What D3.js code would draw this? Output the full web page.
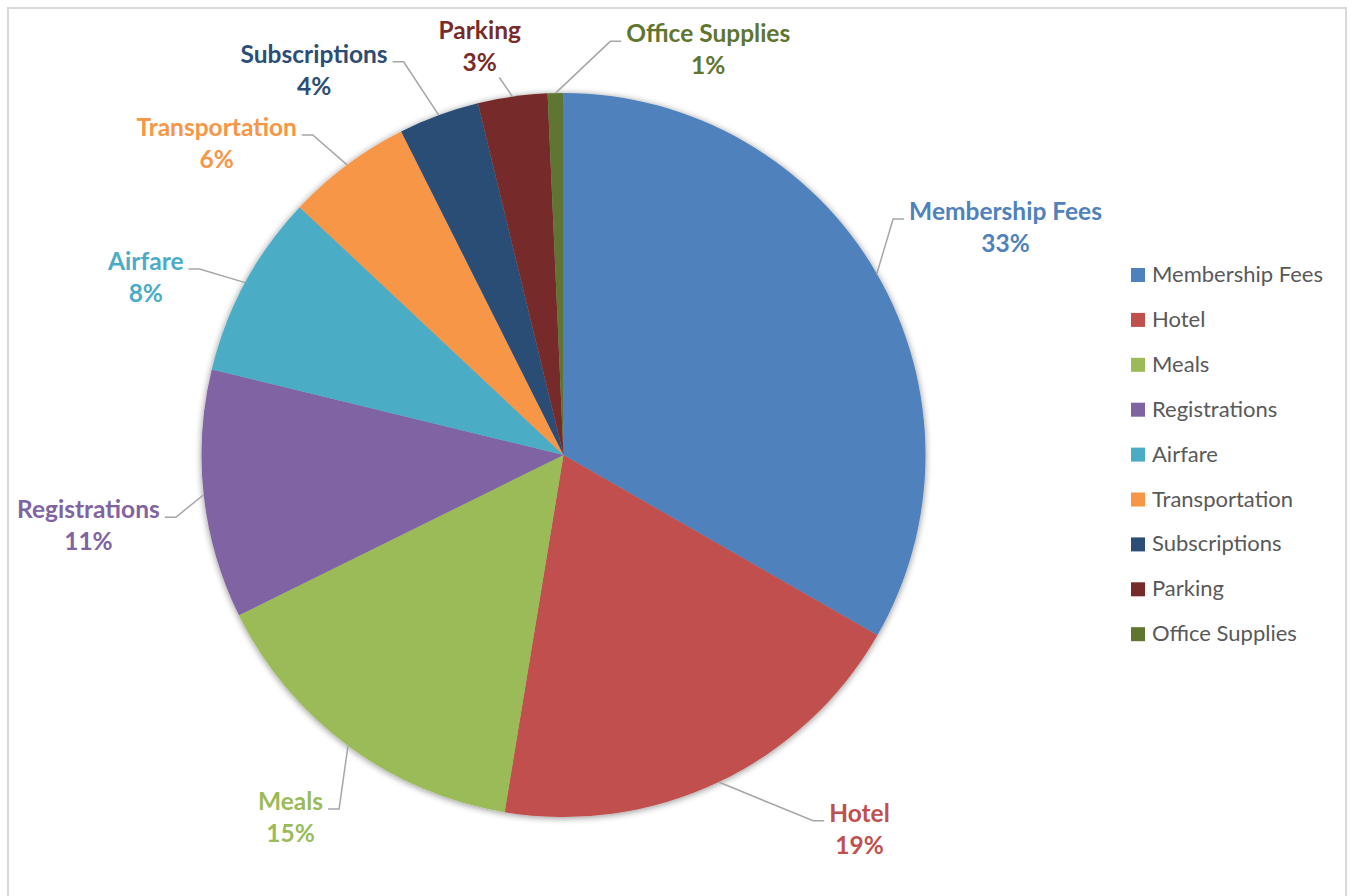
<!DOCTYPE html>
<html>
<head>
<meta charset="utf-8">
<script src="https://cdn.jsdelivr.net/npm/d3@7"></script>
<style>
  body { margin: 0; background: #ffffff; }
  svg { display: block; }
</style>
</head>
<body>
<svg id="chart" width="1354" height="896"></svg>
<script>
// Expense categories and their share of the total (percent)
const categories = ["Membership Fees", "Hotel", "Meals", "Registrations", "Airfare",
                    "Transportation", "Subscriptions", "Parking", "Office Supplies"];
const shares = [33.3, 19.3, 15.1, 11.1, 8.2, 5.6, 3.6, 3.1, 0.7];
const palette = ["#4f81bd", "#c0504d", "#9bbb59", "#8064a2", "#4bacc6",
                 "#f79646", "#2c4d75", "#772c2a", "#5f7530"];

const data = categories.map((name, i) => ({ name, value: shares[i] }));
const total = d3.sum(shares);
const pct = d3.format(".0%");
const color = d3.scaleOrdinal().domain(categories).range(palette);

const svg = d3.select("#chart");
const W = 1354, H = 896;

// chart frame
svg.append("rect")
  .attr("x", 8).attr("y", 8).attr("width", W - 16).attr("height", H + 20)
  .attr("fill", "#ffffff").attr("stroke", "#d9d9d9").attr("stroke-width", 2);

// soft shadow under the pie
const defs = svg.append("defs");
const f = defs.append("filter").attr("id", "pieShadow")
  .attr("x", "-10%").attr("y", "-10%").attr("width", "120%").attr("height", "120%");
f.append("feGaussianBlur").attr("in", "SourceAlpha").attr("stdDeviation", 3.5).attr("result", "blur");
f.append("feOffset").attr("in", "blur").attr("dx", 0).attr("dy", 1).attr("result", "off");
f.append("feComponentTransfer").attr("in", "off").attr("result", "shadow")
  .append("feFuncA").attr("type", "linear").attr("slope", 0.45);
const merge = f.append("feMerge");
merge.append("feMergeNode").attr("in", "shadow");
merge.append("feMergeNode").attr("in", "SourceGraphic");

const cx = 563.5, cy = 455, R = 362;
const pie = d3.pie().sort(null).value(d => d.value);
const arcs = pie(data);
const arc = d3.arc().innerRadius(0).outerRadius(R);

const g = svg.append("g").attr("transform", `translate(${cx},${cy})`);

g.append("g").attr("filter", "url(#pieShadow)")
  .selectAll("path").data(arcs).join("path")
  .attr("d", arc)
  .attr("fill", d => color(d.data.name));

// label placement around the pie: angle (deg, clockwise from 12 o'clock), distance in radii
const labelPlacement = [[62.0, 1.383], [141.1, 1.302], [217.56, 1.237], [262.41, 1.324],
                        [293.89, 1.262], [312.61, 1.302], [327.55, 1.284], [348.6, 1.171], [19.33, 1.208]];

const labelFont = "Lato, 'Open Sans', sans-serif";
const lineGap = 32;
const lineLayer = g.append("g");
const labelLayer = g.append("g");

arcs.forEach((a, i) => {
  const [deg, k] = labelPlacement[i];
  const t = deg * Math.PI / 180;
  const lx = Math.sin(t) * R * k, ly = -Math.cos(t) * R * k;
  const fill = color(a.data.name);

  const lab = labelLayer.append("g");
  const name = lab.append("text")
    .attr("x", lx).attr("y", ly)
    .attr("text-anchor", "middle")
    .attr("font-family", labelFont).attr("font-weight", 700).attr("font-size", 24.5)
    .attr("fill", fill)
    .text(a.data.name);
  lab.append("text")
    .attr("x", lx).attr("y", ly + lineGap)
    .attr("text-anchor", "middle")
    .attr("font-family", labelFont).attr("font-weight", 700).attr("font-size", 24.5)
    .attr("fill", fill)
    .text(pct(a.data.value / total));

  const w = name.node().getComputedTextLength();
  const mid = (a.startAngle + a.endAngle) / 2;
  const px = Math.sin(mid) * R, py = -Math.cos(mid) * R;

  let pts;
  if (Math.abs(px - lx) < w / 2) {
    // label sits right above its slice: straight connector from under the label
    const sx = lx + (px - lx) * 0.6;
    pts = [[sx, ly + lineGap + 6], [px, py]];
  } else if (px > lx) {
    const sx = lx + w / 2 + 5;
    pts = [[sx, ly - 1], [sx + 11, ly - 1], [px, py]];
  } else {
    const sx = lx - w / 2 - 5;
    pts = [[sx, ly - 1], [sx - 11, ly - 1], [px, py]];
  }
  lineLayer.append("path")
    .attr("d", d3.line()(pts))
    .attr("fill", "none")
    .attr("stroke", "#a6a6a6")
    .attr("stroke-width", 1.5);
});

// legend
const legend = svg.append("g").attr("transform", "translate(1131,268)");
const rowH = 44.9;
const rows = legend.selectAll("g").data(categories).join("g")
  .attr("transform", (d, i) => `translate(0,${i * rowH})`);
rows.append("rect")
  .attr("width", 14).attr("height", 14)
  .attr("fill", d => color(d));
rows.append("text")
  .attr("x", 21).attr("y", 14)
  .attr("font-family", labelFont).attr("font-size", 22)
  .attr("fill", "#595959")
  .text(d => d);
</script>
</body>
</html>
